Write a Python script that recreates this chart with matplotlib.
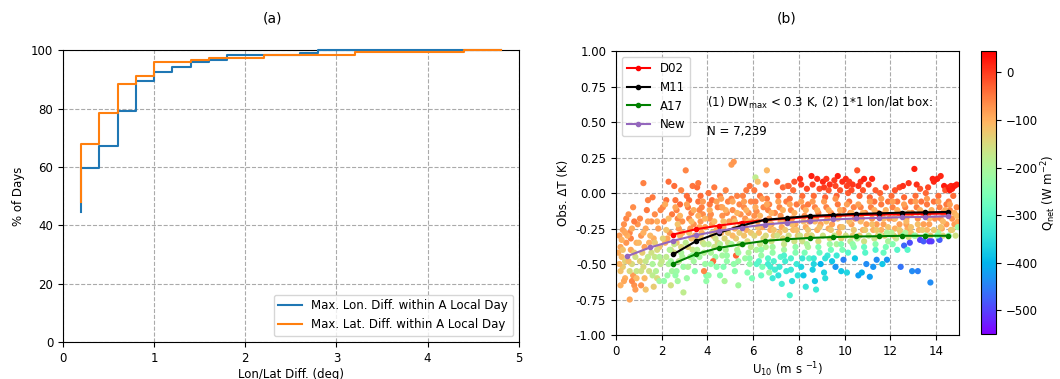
import matplotlib
matplotlib.use("Agg")
import matplotlib.pyplot as plt
import numpy as np

# ---------------- Panel (a) data ----------------
diff_x = [0.2, 0.4, 0.6, 0.8, 1.0, 1.2, 1.4, 1.6, 1.8, 2.0, 2.2, 2.4, 2.6, 2.8, 3.0,
          3.2, 3.4, 3.6, 3.8, 4.0, 4.2, 4.4, 4.6, 4.8]
lon_pct = [44.5, 59.5, 67.0, 79.3, 89.3, 92.5, 94.2, 95.8, 96.7, 98.3, 98.3, 98.5, 98.5, 99.2, 100,
           100, 100, 100, 100, 100, 100, 100, 100, 100]
lat_pct = [48.0, 67.7, 78.5, 88.5, 91.0, 95.8, 95.8, 96.5, 97.4, 97.4, 97.4, 98.4, 98.4, 98.4, 98.4,
           98.4, 99.3, 99.3, 99.3, 99.3, 99.3, 99.3, 100, 100]

# ---------------- Panel (b) data ----------------
u_bins = [2.5, 3.5, 4.5, 5.5, 6.5, 7.5, 8.5, 9.5, 10.5, 11.5, 12.5, 13.5, 14.5]
d02 = [-0.292, -0.255, -0.229, -0.208, -0.191, -0.180, -0.168, -0.161, -0.156, -0.152, -0.150, -0.147, -0.144]
m11 = [-0.432, -0.339, -0.280, -0.229, -0.189, -0.175, -0.161, -0.154, -0.147, -0.143, -0.138, -0.136, -0.133]
a17 = [-0.498, -0.430, -0.386, -0.360, -0.337, -0.325, -0.316, -0.310, -0.306, -0.304, -0.301, -0.301, -0.301]
u_new = [0.5, 1.5, 2.5, 3.5, 4.5, 5.5, 6.5, 7.5, 8.5, 9.5, 10.5, 11.5, 12.5, 13.5, 14.5]
new = [-0.444, -0.383, -0.336, -0.297, -0.266, -0.243, -0.222, -0.208, -0.196, -0.186, -0.179, -0.175, -0.170, -0.168, -0.163]

# scatter observations (outer spread): "U10,dT,Qnet"
obs_text = """
0.15,-0.30,-80 0.2,-0.38,-90 0.25,-0.45,-110 0.3,-0.52,-130 0.35,-0.22,-70 0.4,-0.60,-100 0.2,-0.55,-120
0.1,-0.42,-95 0.45,-0.35,-75 0.3,-0.26,-85 0.4,-0.48,-140 0.15,-0.50,-105 0.35,-0.62,-90 0.45,-0.18,-60 0.25,-0.33,-100
0.55,-0.15,-70 0.6,-0.28,-60 0.65,-0.40,-90 0.7,-0.50,-150 0.75,-0.58,-80 0.8,-0.65,-70 0.85,-0.45,-160 0.9,-0.35,-100
0.95,-0.22,-75 0.6,-0.75,-90 0.7,-0.62,-60 0.8,-0.20,-50 0.9,-0.55,-170 0.55,-0.48,-115 0.65,-0.32,-55 0.75,-0.10,-65 0.85,-0.68,-80
1.05,-0.18,-60 1.1,-0.30,-75 1.15,-0.42,-130 1.2,0.07,-55 1.2,-0.52,-150 1.25,-0.60,-110 1.3,-0.25,-90 1.35,-0.12,-50
1.4,-0.45,-180 1.45,-0.35,-100 1.1,-0.65,-70 1.3,-0.68,-120 1.4,-0.05,-55 1.25,-0.38,-85 1.45,-0.55,-160 1.05,-0.48,-140
1.55,-0.20,-70 1.6,-0.03,-50 1.65,-0.32,-95 1.7,-0.45,-170 1.75,-0.55,-190 1.8,-0.60,-150 1.85,-0.25,-80 1.9,-0.38,-120
1.95,-0.12,-60 1.6,-0.50,-200 1.7,-0.15,-65 1.8,-0.40,-150 1.9,-0.62,-210 1.65,-0.66,-130 1.55,-0.42,-160 1.95,-0.50,-180
2.05,-0.10,-60 2.1,-0.20,-55 2.15,-0.35,-100 2.2,-0.45,-180 2.25,-0.58,-220 2.3,0.08,-40 2.35,-0.28,-70 2.4,-0.40,-140
2.45,-0.15,-50 2.1,-0.62,-230 2.2,-0.05,-45 2.3,-0.50,-200 2.4,-0.65,-160 2.25,-0.32,-90 2.45,-0.55,-210 2.0,-0.48,-170
2.55,0.05,-40 2.6,-0.05,-45 2.65,-0.12,-55 2.7,-0.18,-60 2.75,-0.25,-80 2.8,-0.30,-110 2.85,-0.38,-150 2.9,-0.45,-200
2.95,-0.52,-220 2.6,-0.58,-230 2.7,-0.62,-210 2.8,-0.08,-35 2.9,-0.20,-70 2.65,-0.35,-120 2.75,-0.48,-180 2.95,-0.70,-180
2.85,0.02,-60 2.55,-0.42,-160
3.05,0.16,-60 3.1,-0.02,-40 3.15,-0.10,-50 3.2,-0.18,-60 3.25,-0.25,-75 3.3,-0.32,-120 3.35,-0.40,-170 3.4,-0.48,-210
3.45,-0.55,-240 3.1,-0.60,-220 3.2,-0.05,-35 3.3,-0.14,-55 3.4,-0.22,-70 3.15,-0.38,-140 3.35,0.05,-45 3.45,-0.30,-95 3.25,-0.45,-190
3.55,0.04,-40 3.6,-0.06,-45 3.65,-0.12,-60 3.7,-0.20,-75 3.75,-0.28,-100 3.8,-0.35,-150 3.85,-0.42,-190 3.9,-0.50,-220
3.95,-0.58,-250 3.6,0.07,-50 3.7,-0.02,-40 3.8,-0.15,-65 3.9,-0.24,-85 3.65,-0.45,-210 3.85,-0.55,-60 3.75,-0.10,-55
3.55,-0.32,-130 3.95,-0.62,-230
4.05,0.0,-45 4.1,-0.08,-50 4.15,-0.15,-65 4.2,-0.22,-80 4.25,-0.30,-110 4.3,-0.38,-170 4.35,-0.45,-220 4.4,-0.52,-240
4.45,-0.10,-55 4.1,-0.18,-70 4.2,-0.05,-40 4.3,0.04,-50 4.4,-0.26,-95 4.15,-0.42,-200 4.25,-0.48,-40 4.45,-0.35,-150 4.05,-0.58,-230
4.55,-0.02,-50 4.6,-0.10,-60 4.65,-0.16,-70 4.7,-0.24,-90 4.75,-0.32,-140 4.8,-0.40,-200 4.85,-0.48,-230 4.9,-0.06,-55
4.95,-0.20,-80 4.6,-0.28,-100 4.7,-0.52,-250 4.8,0.02,-60 4.9,-0.35,-160 4.65,-0.44,-210 4.55,-0.58,-240 4.85,-0.14,-65 4.75,-0.62,-200
5.05,0.20,-80 5.15,0.22,-75 5.05,-0.04,-55 5.1,-0.12,-65 5.15,-0.18,-75 5.2,-0.25,-95 5.25,-0.32,-130 5.3,-0.40,-190
5.35,-0.48,-220 5.4,-0.08,-60 5.45,-0.22,-85 5.1,-0.30,-110 5.2,-0.55,-240 5.3,-0.02,-55 5.4,-0.36,-170 5.45,-0.15,-70
5.25,-0.44,-30 5.35,-0.65,-210
5.55,-0.02,-55 5.6,-0.10,-65 5.65,-0.18,-75 5.7,-0.26,-100 5.75,-0.34,-150 5.8,-0.42,-200 5.85,-0.50,-230 5.9,-0.06,-60
5.95,-0.20,-80 5.6,-0.30,-120 5.7,0.02,-50 5.8,-0.14,-70 5.9,-0.38,-180 5.65,-0.46,-220 5.75,-0.56,-250 5.95,-0.60,-260 5.85,0.05,-45
6.05,0.02,-50 6.1,-0.06,-55 6.15,-0.13,-65 6.2,-0.20,-80 6.25,-0.28,-110 6.3,-0.36,-170 6.35,-0.44,-220 6.4,-0.52,-260
6.45,-0.10,-60 6.1,0.11,-180 6.2,0.08,-120 6.3,-0.02,-45 6.4,-0.24,-90 6.15,-0.40,-200 6.25,-0.48,-300 6.35,-0.58,-280
6.45,-0.32,-150 6.05,-0.16,-70
6.55,0.06,-40 6.6,-0.04,-50 6.65,-0.12,-60 6.7,-0.18,-70 6.75,-0.26,-100 6.8,-0.34,-160 6.85,-0.42,-230 6.9,-0.48,-310
6.95,-0.54,-320 6.6,0.16,-110 6.7,-0.08,-55 6.8,-0.22,-85 6.9,-0.30,-130 6.65,-0.46,-300 6.75,-0.52,-320 6.85,-0.60,-330
6.95,-0.14,-65 6.55,-0.38,-190 6.7,-0.56,-220
7.05,0.08,-30 7.1,-0.02,-45 7.15,-0.10,-60 7.2,-0.16,-70 7.25,-0.24,-90 7.3,-0.32,-140 7.35,-0.40,-210 7.4,-0.48,-320
7.45,-0.55,-330 7.1,-0.58,-340 7.2,-0.45,-300 7.3,0.04,-35 7.4,-0.20,-80 7.45,-0.06,-50 7.25,-0.64,-320 7.15,-0.28,-120
7.35,-0.36,-170 7.5,0.05,-60
7.55,0.05,-30 7.6,-0.04,-45 7.65,-0.12,-60 7.7,-0.18,-75 7.75,-0.26,-110 7.8,-0.34,-160 7.85,-0.42,-250 7.9,-0.50,-330
7.95,-0.58,-340 7.6,-0.72,-310 7.7,-0.62,-350 7.8,0.08,-20 7.9,-0.08,-50 7.65,-0.46,-310 7.85,-0.22,-90 7.95,-0.30,-130 7.75,0.02,-40
8.05,0.10,10 8.1,0.06,0 8.15,-0.02,-40 8.2,-0.10,-55 8.25,-0.16,-70 8.3,-0.24,-95 8.35,-0.30,-130 8.4,-0.38,-200
8.45,-0.46,-300 8.1,-0.52,-360 8.2,-0.58,-380 8.3,-0.66,-340 8.35,0.03,-10 8.45,-0.20,-80 8.25,-0.42,-260 8.4,-0.08,-50 8.15,-0.34,-160
8.55,0.12,20 8.6,0.06,-5 8.65,-0.02,-40 8.7,-0.10,-55 8.75,-0.18,-70 8.8,-0.26,-100 8.85,-0.34,-150 8.9,-0.42,-280
8.95,-0.50,-400 8.6,-0.54,-370 8.7,-0.62,-380 8.8,0.10,10 8.9,0.03,-15 8.65,-0.46,-330 8.85,-0.14,-60 8.95,-0.22,-85
8.75,-0.68,-330 8.55,-0.30,-120
9.05,0.08,15 9.1,0.04,0 9.15,-0.03,-30 9.2,-0.10,-55 9.25,-0.18,-70 9.3,-0.25,-95 9.35,-0.32,-150 9.4,-0.40,-270
9.45,-0.48,-380 9.1,-0.56,-360 9.2,0.10,5 9.3,0.02,-20 9.4,-0.14,-65 9.45,-0.22,-85 9.25,-0.44,-330 9.35,0.06,10 9.15,-0.60,-350
9.55,0.09,0 9.6,0.05,-10 9.65,-0.02,-30 9.7,-0.08,-50 9.75,-0.16,-65 9.8,-0.24,-90 9.85,-0.32,-140 9.9,-0.40,-260
9.95,-0.47,-450 9.6,-0.52,-430 9.7,0.12,20 9.8,0.02,-20 9.9,0.08,10 9.95,-0.12,-60 9.65,-0.36,-200 9.75,-0.28,-110 9.85,-0.55,-380
10.05,0.10,10 10.1,0.05,-5 10.15,0.0,-25 10.2,-0.06,-45 10.25,-0.14,-60 10.3,-0.22,-85 10.35,-0.30,-130 10.4,-0.38,-250
10.45,-0.46,-380 10.1,-0.56,-360 10.2,0.08,0 10.3,0.02,-15 10.4,-0.10,-55 10.45,-0.18,-70 10.25,-0.34,-180 10.35,0.06,5 10.15,-0.42,-300
10.55,0.16,-20 10.6,0.05,10 10.65,-0.02,-30 10.7,-0.10,-55 10.75,-0.18,-70 10.8,-0.26,-100 10.85,-0.34,-160 10.9,-0.42,-300
10.95,-0.50,-440 10.6,-0.58,-420 10.7,0.08,5 10.8,0.02,-20 10.9,-0.14,-65 10.95,-0.22,-85 10.75,-0.56,-400 10.65,-0.30,-130 10.85,0.10,20
11.05,0.06,0 11.1,-0.03,-35 11.15,-0.10,-55 11.2,-0.18,-70 11.25,-0.26,-100 11.3,-0.32,-170 11.35,-0.40,-300 11.4,-0.47,-440
11.1,-0.59,-420 11.2,0.10,15 11.3,-0.06,-45 11.4,-0.22,-80 11.45,-0.14,-60 11.25,-0.52,-430 11.35,0.02,-25 11.45,-0.30,-140
11.55,0.0,-30 11.6,-0.08,-50 11.65,-0.15,-65 11.7,-0.22,-85 11.75,-0.30,-130 11.8,-0.38,-260 11.85,-0.47,-430 11.9,-0.06,-45
11.95,-0.18,-75 11.6,-0.26,-100 11.7,-0.42,-280 11.8,0.04,-10 11.9,-0.34,-200 11.65,-0.50,-380
12.05,-0.02,-40 12.1,-0.10,-55 12.15,-0.18,-70 12.2,-0.25,-100 12.25,-0.32,-180 12.3,-0.06,-45 12.35,-0.14,-60 12.4,-0.22,-85
12.45,-0.28,-120 12.1,-0.36,-250 12.2,0.02,-20 12.3,-0.40,-300 12.45,-0.52,-460 12.4,0.04,-10 12.15,-0.30,-140
12.55,0.05,10 12.6,-0.03,-35 12.65,-0.10,-55 12.7,-0.18,-70 12.75,-0.25,-95 12.8,-0.31,-150 12.85,-0.35,-490 12.6,-0.37,-470
12.9,-0.06,-45 12.95,-0.14,-60 12.7,-0.22,-85 12.8,0.07,5 12.9,-0.28,-120 12.65,-0.28,-200 12.95,-0.55,-440 12.75,-0.40,-300
13.05,0.17,20 13.1,-0.02,-40 13.15,-0.10,-55 13.2,-0.18,-70 13.25,-0.26,-100 13.3,-0.33,-500 13.35,-0.06,-45 13.4,-0.14,-60
13.45,-0.22,-85 13.2,-0.55,-450 13.3,0.03,-20 13.1,-0.30,-160 13.45,-0.34,-480 13.15,0.06,10
13.55,0.0,-35 13.6,-0.08,-50 13.65,-0.15,-65 13.7,-0.22,-85 13.75,-0.30,-130 13.8,-0.34,-500 13.85,0.10,20 13.9,-0.06,-45
13.95,-0.18,-70 13.75,-0.63,-440 13.6,-0.26,-110 13.7,-0.34,-510 13.9,0.08,15 13.65,0.04,-10
14.05,0.10,20 14.1,-0.02,-40 14.15,-0.10,-55 14.2,-0.18,-70 14.25,-0.25,-95 14.3,-0.30,-150 14.35,0.05,25 14.4,0.02,-20
14.45,-0.08,-50 14.1,-0.28,-200 14.2,0.12,15 14.3,-0.14,-60 14.45,-0.22,-80 14.15,-0.33,-480
14.55,0.04,20 14.6,0.02,25 14.65,0.05,15 14.7,0.03,20 14.8,0.05,25 14.9,0.06,20 14.55,-0.06,-50 14.6,-0.12,-60
14.7,-0.18,-70 14.8,-0.22,-80 14.9,-0.10,-60 14.95,-0.20,-90 14.65,-0.26,-110 14.85,-0.30,-160 14.75,-0.02,-40 14.95,-0.24,-220
"""

# scatter observations (dense core of the cloud): "U10,dT,Qnet"
core_text = """
0.3,-0.40,-120 0.5,-0.30,-100 0.6,-0.55,-150 0.8,-0.42,-130 0.9,-0.60,-110 1.0,-0.35,-110 1.2,-0.28,-100 1.3,-0.48,-170
1.5,-0.30,-110 1.6,-0.58,-180 1.8,-0.20,-95 1.9,-0.45,-190 0.2,-0.65,-100 0.7,-0.25,-95 1.1,-0.55,-160 1.7,-0.35,-130
0.4,-0.28,-90 1.4,-0.20,-85
2.15,-0.08,-95 2.3,-0.18,-110 2.2,-0.26,-120 2.35,-0.40,-190 2.05,-0.32,-140 2.4,-0.48,-210
2.6,-0.10,-90 2.8,-0.16,-105 2.7,-0.22,-120 2.9,-0.28,-100 2.55,-0.36,-170 2.85,-0.42,-200 2.65,-0.55,-220
3.1,-0.08,-85 3.3,-0.20,-110 3.2,-0.28,-125 3.4,-0.12,-95 3.05,-0.35,-180 3.35,-0.44,-215 3.15,-0.52,-200
3.6,-0.16,-100 3.8,-0.06,-80 3.7,-0.30,-120 3.9,-0.18,-105 3.55,-0.40,-190 3.85,-0.36,-175 3.65,-0.24,-95
4.1,-0.12,-95 4.3,-0.20,-110 4.2,-0.28,-130 4.4,-0.06,-85 4.05,-0.36,-185 4.35,-0.32,-160 4.15,-0.50,-230
4.6,-0.04,-85 4.8,-0.12,-100 4.7,-0.20,-115 4.9,-0.28,-125 4.55,-0.36,-190 4.85,-0.44,-220 4.65,-0.10,-90
5.1,-0.06,-90 5.3,-0.14,-105 5.2,-0.20,-115 5.4,-0.28,-130 5.05,-0.36,-200 5.35,-0.42,-215 5.15,-0.50,-230
5.6,-0.06,-85 5.8,-0.20,-110 5.7,-0.12,-100 5.9,-0.28,-125 5.55,-0.36,-200 5.85,-0.46,-240 5.65,-0.24,-95
6.1,-0.10,-95 6.3,-0.16,-105 6.2,-0.24,-120 6.4,-0.04,-80 6.05,-0.30,-140 6.35,-0.40,-230 6.15,-0.50,-300
6.6,-0.08,-90 6.8,-0.14,-100 6.7,-0.22,-115 6.9,-0.26,-120 6.55,-0.30,-150 6.85,-0.38,-210 6.65,-0.50,-320
7.1,-0.06,-85 7.3,-0.12,-100 7.2,-0.20,-110 7.4,-0.26,-125 7.05,-0.30,-160 7.35,-0.44,-310 7.15,-0.52,-330
7.6,-0.08,-90 7.8,-0.14,-100 7.7,-0.22,-115 7.9,-0.26,-120 7.55,-0.30,-160 7.85,-0.38,-230 7.65,-0.54,-330
8.1,-0.06,-85 8.3,-0.12,-100 8.2,-0.20,-115 8.4,-0.26,-125 8.05,-0.30,-160 8.35,-0.36,-200 8.15,-0.46,-330
8.6,-0.06,-80 8.8,-0.12,-95 8.7,-0.20,-110 8.9,-0.24,-120 8.55,-0.30,-150 8.85,-0.38,-250 8.65,-0.50,-360
9.1,-0.06,-80 9.3,-0.12,-95 9.2,-0.20,-115 9.4,-0.26,-125 9.05,-0.30,-160 9.35,-0.36,-220 9.15,-0.46,-340
9.6,-0.04,-70 9.8,-0.12,-95 9.7,-0.18,-110 9.9,-0.24,-120 9.55,-0.30,-170 9.85,-0.36,-250 9.65,-0.44,-330
10.1,-0.08,-85 10.3,-0.14,-100 10.2,-0.20,-115 10.4,-0.26,-125 10.05,-0.30,-160 10.35,-0.36,-230
10.6,-0.08,-85 10.8,-0.14,-100 10.7,-0.20,-110 10.9,-0.26,-125 10.55,-0.32,-190 10.85,-0.38,-280
11.1,-0.06,-85 11.3,-0.12,-100 11.2,-0.22,-115 11.4,-0.26,-125 11.05,-0.30,-170 11.35,-0.36,-240
11.6,-0.04,-80 11.8,-0.12,-100 11.7,-0.18,-110 11.9,-0.24,-120 11.55,-0.30,-170 11.85,-0.28,-200
12.1,-0.06,-85 12.3,-0.12,-100 12.2,-0.18,-110 12.4,-0.26,-125 12.05,-0.28,-190
12.6,-0.08,-85 12.8,-0.14,-100 12.7,-0.20,-110 12.9,-0.24,-120 12.55,-0.30,-220
13.1,-0.06,-85 13.3,-0.12,-100 13.2,-0.22,-115 13.4,-0.26,-125 13.05,-0.30,-230
13.6,-0.04,-80 13.8,-0.12,-100 13.7,-0.18,-110 13.9,-0.26,-125 13.55,-0.30,-230
14.1,-0.06,-85 14.3,-0.20,-110 14.2,-0.24,-120 14.4,-0.12,-95 14.05,-0.30,-250
14.6,-0.08,-85 14.8,-0.14,-100 14.7,-0.26,-130 14.9,-0.16,-110 14.55,-0.30,-230
"""


def parse_points(text):
    return np.array([[float(v) for v in tok.split(",")] for tok in text.split()])


obs = np.vstack([parse_points(obs_text), parse_points(core_text)])
obs_u, obs_dt, obs_q = obs[:, 0], obs[:, 1], obs[:, 2]

# ---------------- Figure ----------------
fig = plt.figure(figsize=(10.6, 3.79), dpi=100)
fs = 8.5

# Panel (a)
ax1 = fig.add_axes([0.0594, 0.0976, 0.430, 0.770])
ax1.step(diff_x, lon_pct, where="pre", color="C0", lw=1.5, clip_on=False, zorder=3,
         label="Max. Lon. Diff. within A Local Day")
ax1.step(diff_x, lat_pct, where="pre", color="C1", lw=1.5, clip_on=False, zorder=3,
         label="Max. Lat. Diff. within A Local Day")
ax1.set_xlim(0, 5)
ax1.set_ylim(0, 100)
ax1.set_xticks([0, 1, 2, 3, 4, 5])
ax1.set_yticks([0, 20, 40, 60, 80, 100])
ax1.grid(True, ls="--", color="#aaaaaa", lw=0.8)
ax1.set_xlabel("Lon/Lat Diff. (deg)", fontsize=fs, labelpad=2)
ax1.set_ylabel("% of Days", fontsize=fs)
ax1.tick_params(labelsize=fs)
ax1.legend(loc="lower right", fontsize=fs)
fig.text(0.257, 0.952, "(a)", ha="center", va="center", fontsize=10)

# Panel (b)
ax2 = fig.add_axes([0.5811, 0.1161, 0.3236, 0.749])
sc = ax2.scatter(obs_u, obs_dt, c=obs_q, cmap="rainbow", vmin=-550, vmax=45,
                 s=20, linewidths=0, zorder=2)
ax2.plot(u_bins, d02, "-o", color="red", ms=3, lw=1.5, label="D02", zorder=4)
ax2.plot(u_bins, m11, "-o", color="black", ms=3, lw=1.5, label="M11", zorder=4)
ax2.plot(u_bins, a17, "-o", color="green", ms=3, lw=1.5, label="A17", zorder=4)
ax2.plot(u_new, new, "-o", color="#9467bd", ms=3, lw=1.5, label="New", zorder=4)
ax2.set_xlim(0, 15)
ax2.set_ylim(-1.0, 1.0)
ax2.set_xticks([0, 2, 4, 6, 8, 10, 12, 14])
ax2.set_yticks([-1.0, -0.75, -0.5, -0.25, 0.0, 0.25, 0.5, 0.75, 1.0])
ax2.yaxis.set_major_formatter(matplotlib.ticker.FormatStrFormatter("%.2f"))
ax2.grid(True, ls="--", color="#aaaaaa", lw=0.8, zorder=0)
ax2.set_axisbelow(True)
ax2.set_xlabel("U$_{10}$ (m s $^{-1}$)", fontsize=fs, labelpad=2)
ax2.set_ylabel("Obs. \u0394T (K)", fontsize=fs)
ax2.tick_params(labelsize=fs)
ax2.legend(loc="upper left", fontsize=fs)
ax2.text(3.98, 0.634, "(1) DW$_{\\mathrm{max}}$ < 0.3 K, (2) 1*1 lon/lat box:",
         fontsize=fs, va="center", ha="left")
ax2.text(3.98, 0.437, "N = 7,239", fontsize=fs, va="center", ha="left")
fig.text(0.742, 0.952, "(b)", ha="center", va="center", fontsize=10)

cax = fig.add_axes([0.9255, 0.1187, 0.0142, 0.7467])
cb = fig.colorbar(sc, cax=cax)
cb.set_ticks([0, -100, -200, -300, -400, -500])
cb.ax.tick_params(labelsize=fs)
cb.set_label("Q$_{\\mathrm{net}}$ (W m$^{-2}$)", fontsize=fs, labelpad=1)

fig.savefig("out.png", dpi=100)
